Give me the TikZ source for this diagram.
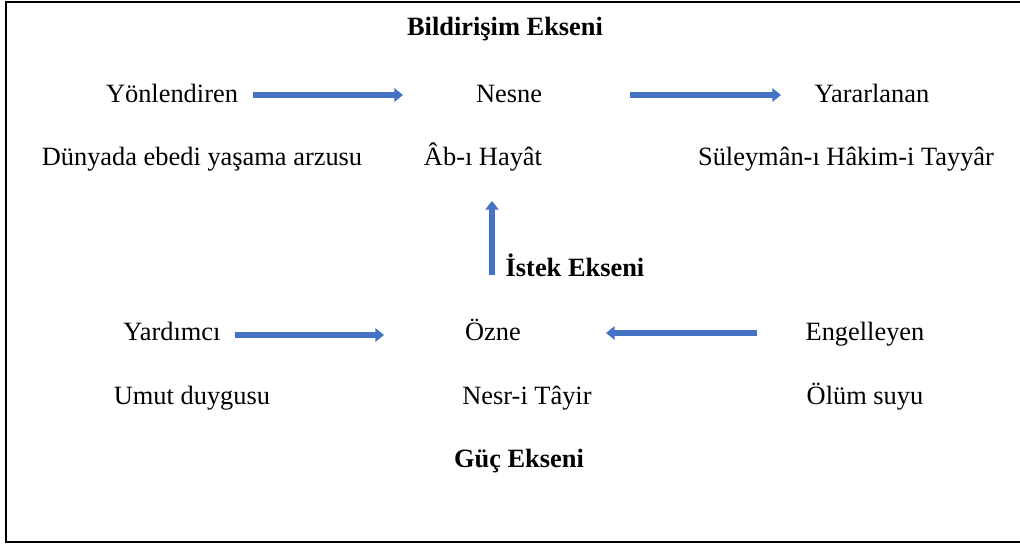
\documentclass[tikz,border=0pt]{standalone}
\usepackage{fontspec}
\setmainfont{Liberation Serif}
\usetikzlibrary{arrows.meta}
\definecolor{arrowblue}{HTML}{4472C4}
\tikzset{
  lbl/.style={inner sep=0pt, font=\fontsize{19.8}{24}\selectfont, anchor=base},
  ttl/.style={lbl, font=\fontsize{19.8}{24}\selectfont\bfseries},
  blockarrow/.style={draw=arrowblue, line width=4.2pt, -{Triangle[width=10pt,length=6.5pt]}},
  frame/.style={draw=black, line width=1.4pt}
}
\begin{document}
\begin{tikzpicture}[x=0.75pt,y=-0.75pt]
\useasboundingbox (0,0) rectangle (1020,547);
\draw[frame] (1030,2) -- (6,2) -- (6,542) -- (1030,542);

\node[ttl] (bild) at (505,35) {Bildirişim Ekseni};
\node[lbl] (yon) at (172,102) {Yönlendiren};
\node[lbl] (nesne) at (509,102) {Nesne};
\node[lbl] (yarar) at (872,102) {Yararlanan};
\node[lbl] (dunya) at (202,165) {Dünyada ebedi yaşama arzusu};
\node[lbl] (ab) at (483,165) {Âb-ı Hayât};
\node[lbl] (sul) at (846,165) {Süleymân-ı Hâkim-i Tayyâr};
\node[ttl] (istek) at (575,276) {İstek Ekseni};
\node[lbl] (yard) at (172,340.5) {Yardımcı};
\node[lbl] (ozne) at (493,340.5) {Özne};
\node[lbl] (eng) at (865,340.5) {Engelleyen};
\node[lbl] (umut) at (192,404) {Umut duygusu};
\node[lbl] (nesr) at (527,404) {Nesr-i Tâyir};
\node[lbl] (olum) at (865,404) {Ölüm suyu};
\node[ttl] (guc) at (519,467) {Güç Ekseni};

\coordinate (a1s) at (253,95);
\coordinate (a1e) at (403,95);
\coordinate (a2s) at (630,95);
\coordinate (a2e) at (781,95);
\coordinate (a3s) at (492,275);
\coordinate (a3e) at (492,201);
\coordinate (a4s) at (235,335);
\coordinate (a4e) at (384,335);
\coordinate (a5s) at (757,333);
\coordinate (a5e) at (606,333);

\draw[blockarrow] (a1s) -- (a1e);
\draw[blockarrow] (a2s) -- (a2e);
\draw[blockarrow] (a3s) -- (a3e);
\draw[blockarrow] (a4s) -- (a4e);
\draw[blockarrow] (a5s) -- (a5e);
\end{tikzpicture}
\end{document}
